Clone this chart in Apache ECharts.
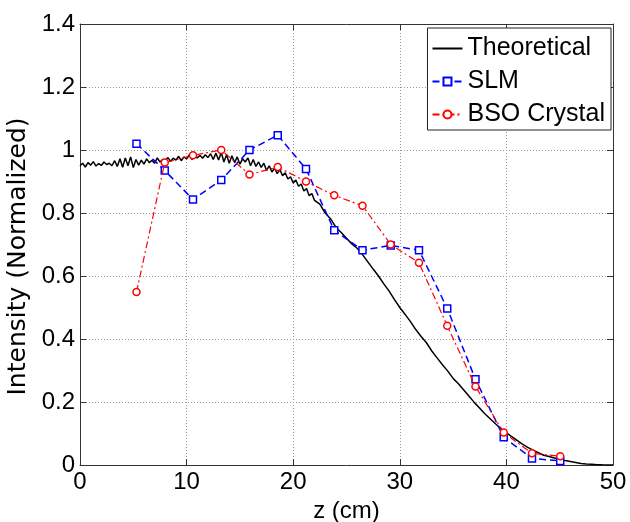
<!DOCTYPE html>
<html>
<head>
<meta charset="utf-8">
<script src="https://cdn.jsdelivr.net/npm/echarts@6/dist/echarts.min.js"></script>
<style>html,body{margin:0;padding:0;background:#fff;}#c{width:630px;height:522px;}</style>
</head>
<body>
<div id="c"></div>
<script>
var xTicks = [0, 10, 20, 30, 40, 50];
var yTicks = [0, 0.2, 0.4, 0.6, 0.8, 1, 1.2, 1.4];

var measZ = [5.3, 7.95, 10.6, 13.25, 15.9, 18.55, 21.2, 23.85, 26.5, 29.15, 31.8, 34.45, 37.1, 39.75, 42.4, 45.05];
var slmI  = [1.02, 0.935, 0.843, 0.905, 1.0, 1.047, 0.94, 0.745, 0.682, 0.697, 0.682, 0.497, 0.272, 0.088, 0.021, 0.013];
var bsoI  = [0.549, 0.96, 0.983, 1.0, 0.922, 0.946, 0.9, 0.856, 0.823, 0.70, 0.642, 0.442, 0.249, 0.103, 0.037, 0.028];

var theoZ = [0,0.25,0.5,0.75,1,1.25,1.5,1.75,2,2.25,2.5,2.75,3,3.25,3.5,3.75,4,4.25,4.5,4.75,5,5.25,5.5,5.75,6,6.25,6.5,6.75,7,7.25,7.5,7.75,8,8.25,8.5,8.75,9,9.25,9.5,9.75,10,10.25,10.5,10.75,11,11.25,11.5,11.75,12,12.25,12.5,12.75,13,13.25,13.5,13.75,14,14.25,14.5,14.75,15,15.25,15.5,15.75,16,16.25,16.5,16.75,17,17.25,17.5,17.75,18,18.25,18.5,18.75,19,19.25,19.5,19.75,20,20.25,20.5,20.75,21,21.25,21.5,21.75,22,22.5,23,23.5,24,24.5,25,25.5,26,26.5,27,27.5,28,28.5,29,29.5,30,30.5,31,31.5,32,32.5,33,33.5,34,34.5,35,35.5,36,36.5,37,37.5,38,38.5,39,39.5,40,40.5,41,41.5,42,42.5,43,43.5,44,44.5,45,45.5,46,46.5,47,47.5,48,48.5,49,49.5,50];
var theoI = [0.950,0.958,0.946,0.960,0.952,0.963,0.949,0.957,0.951,0.962,0.954,0.958,0.950,0.966,0.948,0.972,0.945,0.975,0.950,0.978,0.944,0.970,0.952,0.968,0.955,0.972,0.960,0.967,0.958,0.975,0.962,0.970,0.966,0.976,0.964,0.974,0.968,0.980,0.966,0.978,0.972,0.984,0.970,0.980,0.975,0.983,0.974,0.985,0.976,0.988,0.970,0.990,0.968,0.992,0.962,0.985,0.958,0.982,0.960,0.978,0.955,0.972,0.962,0.975,0.950,0.970,0.948,0.962,0.945,0.958,0.935,0.950,0.930,0.942,0.925,0.938,0.918,0.928,0.908,0.915,0.895,0.905,0.885,0.892,0.870,0.878,0.855,0.862,0.840,0.828,0.800,0.782,0.755,0.738,0.720,0.702,0.688,0.668,0.645,0.622,0.600,0.575,0.552,0.525,0.500,0.478,0.455,0.430,0.408,0.388,0.362,0.340,0.318,0.298,0.275,0.258,0.238,0.218,0.198,0.180,0.162,0.146,0.130,0.115,0.102,0.090,0.078,0.066,0.056,0.047,0.039,0.031,0.027,0.022,0.018,0.014,0.011,0.008,0.005,0.003,0.002,0.001,0.0005,0.0002,0.0];

function pairs(xs, ys){ var o=[]; for(var i=0;i<xs.length;i++) o.push([xs[i], ys[i]]); return o; }

var font = 'Liberation Sans, Arial, sans-serif';
var chart = echarts.init(document.getElementById('c'), null, {renderer:'canvas'});
var axisCommonX = {
  type:'value', min:xTicks[0], max:xTicks[xTicks.length-1], interval:10,
  axisLine:{show:true, onZero:false, lineStyle:{color:'#333', width:1}},
  axisTick:{show:true, inside:true, length:6, lineStyle:{color:'#333'}},
  splitLine:{show:false}
};
var axisCommonY = {
  type:'value', min:yTicks[0], max:yTicks[yTicks.length-1], interval:0.2,
  axisLine:{show:true, onZero:false, lineStyle:{color:'#333', width:1}},
  axisTick:{show:true, inside:true, length:6, lineStyle:{color:'#333'}},
  splitLine:{show:false}
};
var option = {
  backgroundColor:'#fff',
  animation:false,
  grid:{left:80, right:17, top:24, bottom:57, show:false, containLabel:false, outerBoundsMode:'none'},
  xAxis:[
    Object.assign({}, axisCommonX, {
      position:'bottom',
      axisLabel:{color:'#000', fontSize:24, fontFamily:font, margin:5},
      splitLine:{show:true, lineStyle:{color:'#999', type:[1,2], width:1}},
      name:'z (cm)', nameLocation:'middle', nameGap:33,
      nameTextStyle:{color:'#000', fontSize:24, fontFamily:font}
    }),
    Object.assign({}, axisCommonX, {position:'top', axisLabel:{show:false}})
  ],
  yAxis:[
    Object.assign({}, axisCommonY, {
      position:'left',
      axisLabel:{color:'#000', fontSize:24, fontFamily:font, margin:5},
      splitLine:{show:true, lineStyle:{color:'#999', type:[1,2], width:1}},
      name:'Intensity (Normalized)', nameLocation:'middle', nameGap:43, nameRotate:90,
      nameTextStyle:{color:'#000', fontSize:25, fontFamily:'DejaVu Sans, sans-serif', padding:[0,24,0,0]}
    }),
    Object.assign({}, axisCommonY, {position:'right', axisLabel:{show:false}})
  ],
  legend:{
    orient:'vertical', right:19, top:28,
    backgroundColor:'#fff', borderColor:'#222', borderWidth:1,
    padding:[8,6,3,4], itemGap:8, itemWidth:30, itemHeight:10,
    textStyle:{color:'#000', fontSize:25, fontFamily:font},
    data:[
      {name:'Theoretical', itemStyle:{opacity:0}},
      {name:'SLM'},
      {name:'BSO Crystal'}
    ]
  },
  series:[
    {
      name:'Theoretical', type:'line', data:pairs(theoZ, theoI),
      showSymbol:false, symbol:'none',
      lineStyle:{color:'#000', width:1.5}, itemStyle:{color:'#000'}, z:2
    },
    {
      name:'SLM', type:'line', data:pairs(measZ, slmI),
      symbol:'rect', symbolSize:7, showSymbol:true,
      lineStyle:{color:'#0000ff', width:1.5, type:[7,4]},
      itemStyle:{color:'#fff', borderColor:'#0000ff', borderWidth:1.5}, z:3
    },
    {
      name:'BSO Crystal', type:'line', data:pairs(measZ, bsoI),
      symbol:'circle', symbolSize:7, showSymbol:true,
      lineStyle:{color:'#ff0000', width:1.2, type:[7,3,2,3]},
      itemStyle:{color:'#fff', borderColor:'#ff0000', borderWidth:1.5}, z:4
    }
  ]
};
chart.setOption(option);
</script>
</body>
</html>
